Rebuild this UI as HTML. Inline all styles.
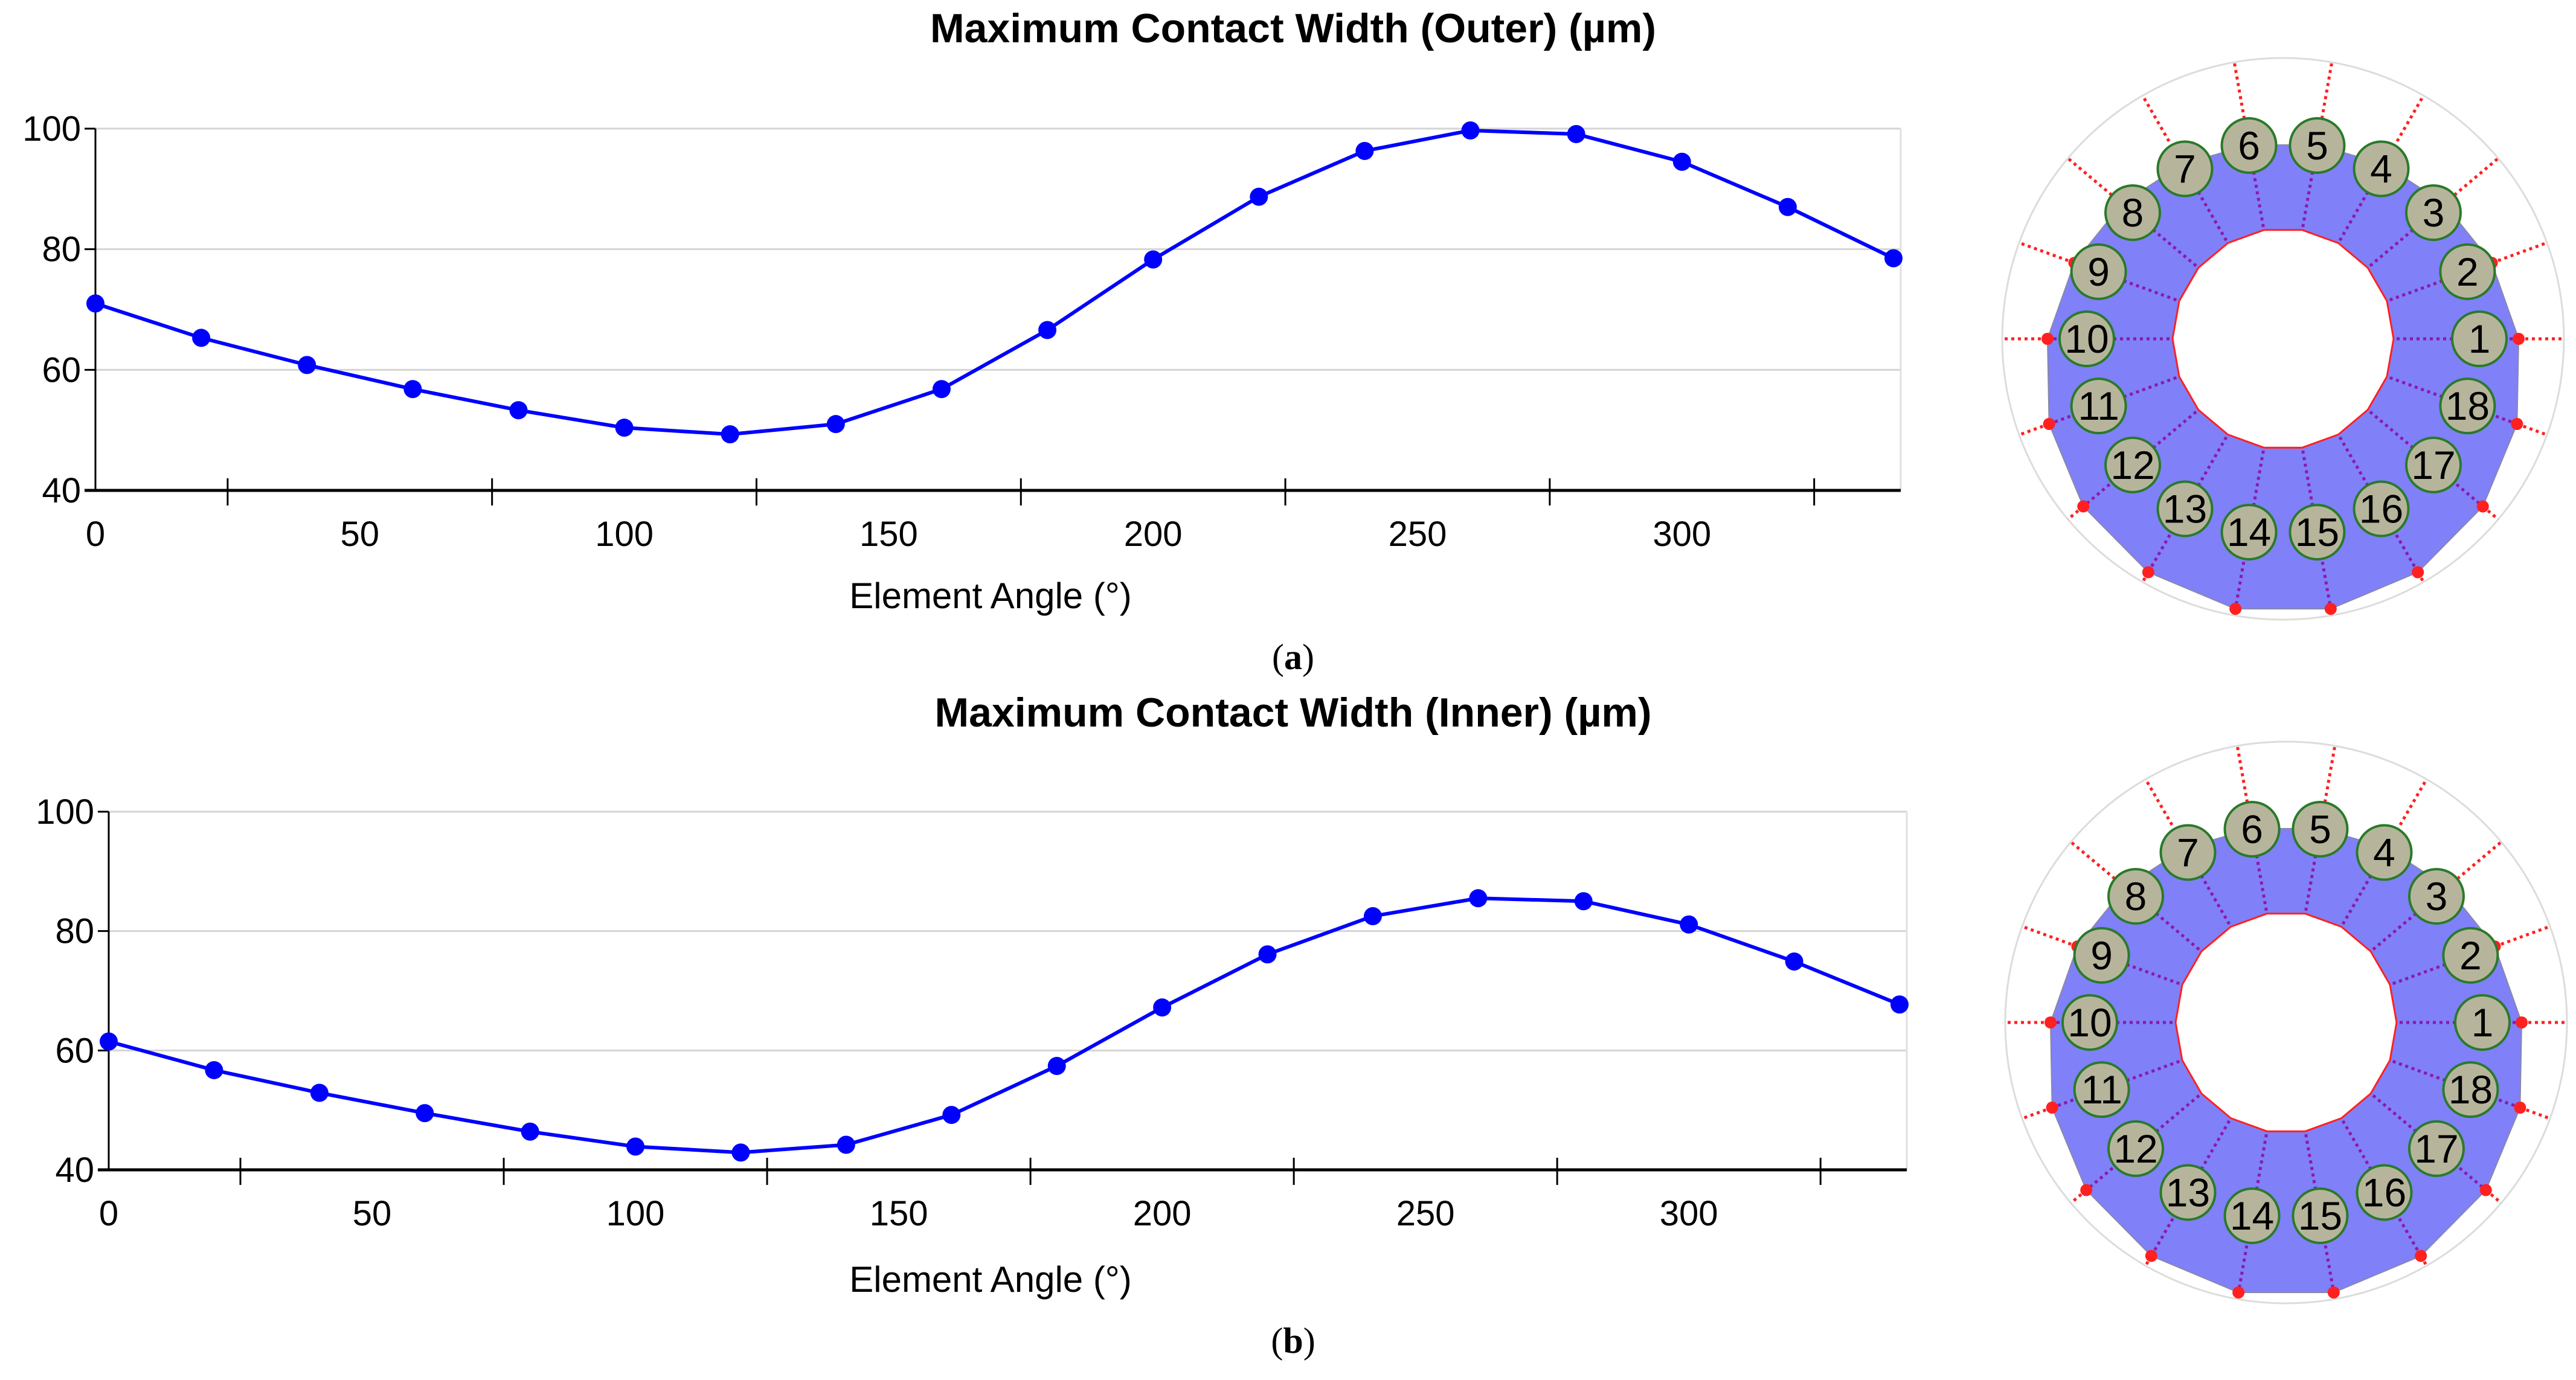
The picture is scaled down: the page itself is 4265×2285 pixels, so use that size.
<!DOCTYPE html>
<html><head><meta charset="utf-8"><style>
html,body{margin:0;padding:0;background:#fff;}
svg{display:block;}
</style></head><body>
<svg id="fig" width="4265" height="2285" viewBox="0 0 4265 2285" xmlns="http://www.w3.org/2000/svg"></svg>
<script>
const angles = [0,20,40,60,80,100,120,140,160,180,200,220,240,260,280,300,320,340];
const outerValues = [71,65.3,60.8,56.8,53.3,50.4,49.3,51,56.8,66.6,78.3,88.7,96.3,99.7,99.1,94.5,87,78.5];
const innerValues = [61.5,56.7,52.9,49.5,46.4,43.9,42.9,44.2,49.2,57.4,67.2,76.1,82.5,85.5,85.0,81.1,74.9,67.7];
const yTicks = [40,60,80,100];
const xLabels = [0,50,100,150,200,250,300];
const xMinorTicks = [25,75,125,175,225,275,325];
const elementLabels = [1,2,3,4,5,6,7,8,9,10,11,12,13,14,15,16,17,18];

const NS = "http://www.w3.org/2000/svg";
const svg = document.getElementById('fig');
function mk(tag, attrs, parent){
  const e = document.createElementNS(NS, tag);
  for (const k in attrs) e.setAttribute(k, attrs[k]);
  (parent||svg).appendChild(e);
  return e;
}

function drawChart(cfg){
  const g = mk('g', {});
  
  
  const xs = v => cfg.x0 + (v/340)*(cfg.x1 - cfg.x0);
  const ys = v => cfg.yb + (v-40)/60*(cfg.yt - cfg.yb);
  const t = mk('text', {x: cfg.titleX, y: cfg.titleY, 'font-family':'Liberation Sans, sans-serif','font-size':68,'font-weight':'bold','text-anchor':'middle'}, g);
  t.textContent = cfg.title;
  
  
  yTicks.forEach(v => {
    if (v > 40) {
      const gl = mk('line', {x1: cfg.x0, x2: cfg.x1+12, y1: ys(v), y2: ys(v), stroke:'#d4d4d4', 'stroke-width':3}, g);
      
      
    }
    mk('line', {x1: cfg.x0-18, x2: cfg.x0, y1: ys(v), y2: ys(v), stroke:'#000', 'stroke-width':3}, g);
    const lb = mk('text', {x: cfg.x0-24, y: ys(v)+20, 'font-family':'Liberation Sans, sans-serif','font-size':58,'text-anchor':'end'}, g);
    lb.textContent = v;
    
    
  });
  mk('line', {x1: cfg.x1+12, x2: cfg.x1+12, y1: cfg.yt, y2: cfg.yb, stroke:'#e0e0e0','stroke-width':3}, g);
  mk('line', {x1: cfg.x0, x2: cfg.x0, y1: cfg.yt, y2: cfg.yb, stroke:'#000','stroke-width':3}, g);
  mk('line', {x1: cfg.x0-18, x2: cfg.x1+12, y1: cfg.yb, y2: cfg.yb, stroke:'#000','stroke-width':5}, g);
  xMinorTicks.forEach(v => {
    mk('line', {x1: xs(v), x2: xs(v), y1: cfg.yb-20, y2: cfg.yb+25, stroke:'#000','stroke-width':3}, g);
  });
  xLabels.forEach(v => {
    const lb = mk('text', {x: xs(v), y: cfg.yb+92, 'font-family':'Liberation Sans, sans-serif','font-size':58,'text-anchor':'middle'}, g);
    lb.textContent = v;
    
    
  });
  const xl = mk('text', {x: cfg.xlabX, y: cfg.xlabY, 'font-family':'Liberation Sans, sans-serif','font-size':60,'text-anchor':'middle'}, g);
  xl.textContent = 'Element Angle (°)';
  
  
  const pts = angles.map((a,i) => xs(a)+','+ys(cfg.values[i])).join(' ');
  const pl = mk('polyline', {points: pts, fill:'none', stroke:'#0000ff','stroke-width':6}, g);
  
  
  angles.forEach((a,i) => {
    const c = mk('circle', {cx: xs(a), cy: ys(cfg.values[i]), r: 15, fill:'#0000ff'}, g);
    
    
  });
  const cap = mk('text', {x: cfg.capX, y: cfg.capY, 'font-family':'Liberation Serif, serif','font-size':60,'text-anchor':'middle'}, g);
  cap.innerHTML = '(<tspan font-weight="bold">' + cfg.cap + '</tspan>)';
  
  
}

function drawRing(cx, cy, name){
  const g = mk('g', {});
  
  
  const rad = d => d*Math.PI/180;
  const P = (r, d) => [cx + r*Math.cos(rad(d)), cy - r*Math.sin(rad(d))];
  mk('circle', {cx, cy, r: 465, fill:'none', stroke:'#dcdcdc','stroke-width':3}, g);
  const rOut = d => 390 - 65*Math.sin(rad(d));
  const outerPts = elementLabels.map((n,i) => P(rOut(i*20), i*20).join(',')).join(' ');
  const innerPts = elementLabels.map((n,i) => P(183, i*20).join(',')).join(' ');
  const ring = mk('path', {d: 'M' + outerPts.replace(/ /g,' L') + ' Z M' + innerPts.replace(/ /g,' L') + ' Z', fill:'#8080f8', 'fill-rule':'evenodd', stroke:'#8888aa','stroke-width':2}, g);
  
  
  mk('polygon', {points: innerPts, fill:'#fff', stroke:'#ff2020','stroke-width':3}, g);
  elementLabels.forEach((n,i) => {
    const d = i*20;
    const a = P(rOut(d), d), b = P(465, d), c = P(188, d);
    mk('line', {x1:a[0], y1:a[1], x2:b[0], y2:b[1], stroke:'#ff2020','stroke-width':5,'stroke-dasharray':'5,6'}, g);
    mk('line', {x1:c[0], y1:c[1], x2:a[0], y2:a[1], stroke:'#8a1aa8','stroke-width':5,'stroke-dasharray':'5,6'}, g);
    mk('circle', {cx:a[0], cy:a[1], r:10, fill:'#ff2020'}, g);
  });
  elementLabels.forEach((n,i) => {
    const p = P(325, i*20);
    const c = mk('circle', {cx:p[0], cy:p[1], r:45, fill:'#b6b59c', stroke:'#2a7a2a','stroke-width':4}, g);
    
    
    const t = mk('text', {x:p[0], y:p[1]+23, 'font-family':'Liberation Sans, sans-serif','font-size':66,'text-anchor':'middle', fill:'#000'}, g);
    t.textContent = n;
    
    
  });
}

drawChart({name:'outer-chart', title:'Maximum Contact Width (Outer) (µm)', titleX:2141, titleY:70,
  x0:158, x1:3135, yt:213, yb:812, values: outerValues, xlabX:1640, xlabY:1007, cap:'a', capX:2141, capY:1108});
drawChart({name:'inner-chart', title:'Maximum Contact Width (Inner) (µm)', titleX:2141, titleY:1203,
  x0:180, x1:3145, yt:1344, yb:1937, values: innerValues, xlabX:1640, xlabY:2139, cap:'b', capX:2141, capY:2240});
drawRing(3780, 561, 'outer-ring-diagram');
drawRing(3785, 1693, 'inner-ring-diagram');
</script>
</body></html>
